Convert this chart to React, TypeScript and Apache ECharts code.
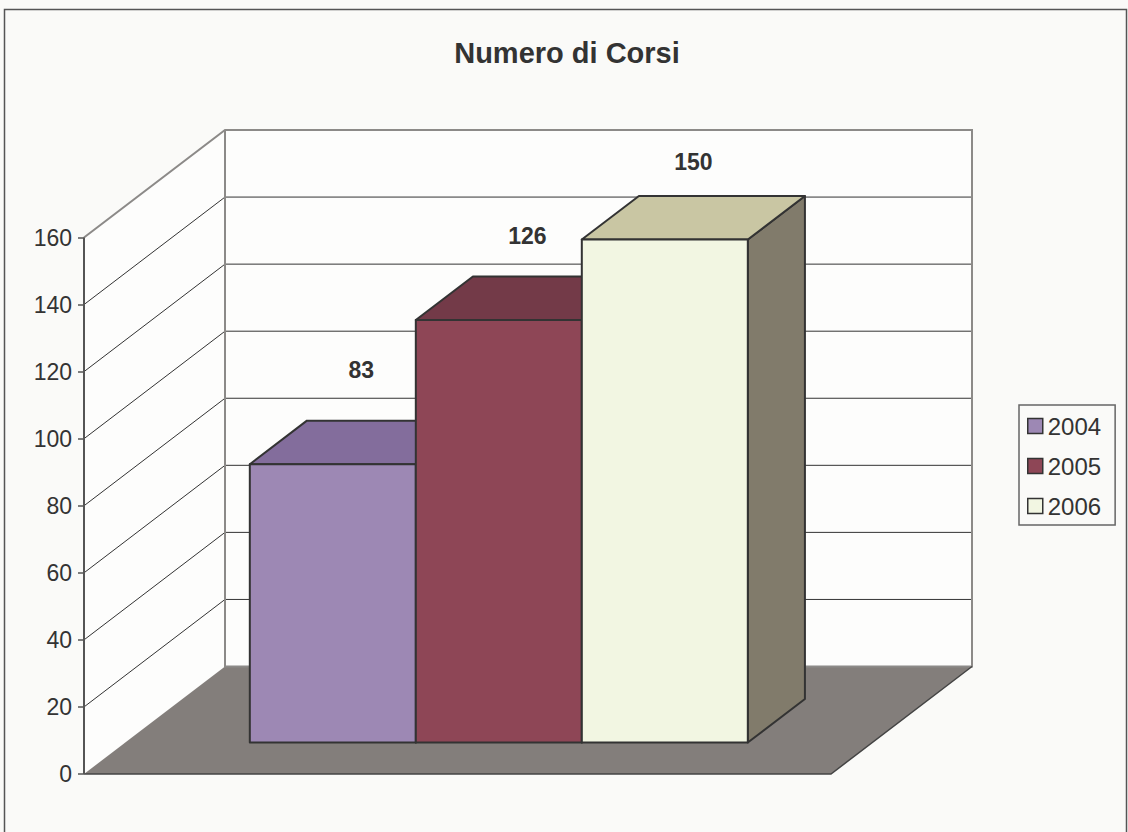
import React, { useEffect, useRef } from "react";
import * as echarts from "echarts";

const TITLE = "Numero di Corsi";
const SERIES_NAMES = ["2004", "2005", "2006"];
const SERIES_VALUES = [83, 126, 150];
const Y_TICKS = [0, 20, 40, 60, 80, 100, 120, 140, 160];
const Y_MIN = 0;
const Y_MAX = 160;
const Y_STEP = 20;

const FRONT_COLORS = ["#9d88b4", "#8e4656", "#f2f6e2"];
const TOP_COLORS = ["#836d9c", "#733a48", "#c9c6a3"];
const SIDE_COLORS = ["#6e5a85", "#5e2f3b", "#817b6b"];

const FONT = "'Liberation Sans', Arial, sans-serif";
const BG = "#fafaf8";
const TEXT = "#333333";

// oblique projection of the 3D box
const DEPTH_DX = 141;
const DEPTH_DY = -107.5;
const BAR_DEPTH_FRONT = 0.293;
const BAR_DEPTH_BACK = 0.698;
const GAP_RATIO = 1.5;
const LABEL_K = 0.926;
const LABEL_DY = -146.6;

export default function App() {
  const ref = useRef<HTMLDivElement>(null);

  useEffect(() => {
    document.body.style.margin = "0";
    if (!ref.current) return;
    const chart = echarts.init(ref.current, null, { renderer: "svg" });

    const project = (api: any, x: number, y: number, d: number) => {
      const c = api.coord([x, y]);
      return [c[0] + d * DEPTH_DX, c[1] + d * DEPTH_DY];
    };

    const frameSeries: any = {
      type: "custom",
      name: "frame",
      clip: false,
      silent: true,
      data: [[0, 0]],
      renderItem: (_params: any, api: any) => {
        const children: any[] = [];
        const f00 = project(api, 0, Y_MIN, 0);
        const f10 = project(api, 1, Y_MIN, 0);
        const f01 = project(api, 0, Y_MAX, 0);
        const b00 = project(api, 0, Y_MIN, 1);
        const b10 = project(api, 1, Y_MIN, 1);
        const b01 = project(api, 0, Y_MAX, 1);
        const b11 = project(api, 1, Y_MAX, 1);
        children.push({
          type: "polygon",
          shape: { points: [b00, b10, b11, b01] },
          style: { fill: "#fdfdfc", stroke: null },
        });
        children.push({
          type: "polygon",
          shape: { points: [f00, b00, b01, f01] },
          style: { fill: "#fdfdfc", stroke: null },
        });
        children.push({
          type: "polygon",
          shape: { points: [f00, f10, b10, b00] },
          style: { fill: "#837e7b", stroke: null },
        });
        Y_TICKS.forEach((t) => {
          if (t === Y_MIN || t === Y_MAX) return;
          const a = project(api, 0, t, 0);
          const b = project(api, 0, t, 1);
          const c = project(api, 1, t, 1);
          children.push({
            type: "polyline",
            shape: { points: [a, b, c] },
            style: { stroke: "#333333", lineWidth: 1, fill: null },
          });
        });
        // back wall + left wall top edges
        children.push({
          type: "polyline",
          shape: { points: [f01, b01, b11, b10, b00, b01] },
          style: { stroke: "#8c8a88", lineWidth: 2, fill: null },
        });
        // floor edges
        children.push({
          type: "polyline",
          shape: { points: [b10, f10, f00] },
          style: { stroke: "#444444", lineWidth: 1.5, fill: null },
        });
        // front vertical axis line
        children.push({
          type: "line",
          shape: { x1: f00[0], y1: f00[1], x2: f01[0], y2: f01[1] },
          style: { stroke: "#555555", lineWidth: 2 },
        });
        return { type: "group", children };
      },
    };

    const n = SERIES_VALUES.length;
    const unit = 1 / (n + GAP_RATIO);

    const barSeries: any[] = SERIES_NAMES.map((name, i) => ({
      type: "custom",
      name,
      clip: false,
      itemStyle: { color: FRONT_COLORS[i] },
      data: [[i, SERIES_VALUES[i]]],
      renderItem: (_params: any, api: any) => {
        const v = api.value(1);
        const x0 = (GAP_RATIO / 2 + i) * unit;
        const x1 = x0 + unit;
        const fl = project(api, x0, 0, BAR_DEPTH_FRONT);
        const fr = project(api, x1, 0, BAR_DEPTH_FRONT);
        const tl = project(api, x0, v, BAR_DEPTH_FRONT);
        const tr = project(api, x1, v, BAR_DEPTH_FRONT);
        const btl = project(api, x0, v, BAR_DEPTH_BACK);
        const btr = project(api, x1, v, BAR_DEPTH_BACK);
        const bbr = project(api, x1, 0, BAR_DEPTH_BACK);
        const edge = { stroke: "#333333", lineWidth: 2, lineJoin: "round" };
        const labelY = api.coord([0, v * LABEL_K])[1] + LABEL_DY;
        const labelX = (tl[0] + btr[0]) / 2;
        return {
          type: "group",
          children: [
            {
              type: "polygon",
              shape: { points: [fr, bbr, btr, tr] },
              style: { fill: SIDE_COLORS[i], ...edge },
            },
            {
              type: "polygon",
              shape: { points: [tl, tr, btr, btl] },
              style: { fill: TOP_COLORS[i], ...edge },
            },
            {
              type: "polygon",
              shape: { points: [fl, fr, tr, tl] },
              style: { fill: FRONT_COLORS[i], ...edge },
            },
            {
              type: "text",
              x: labelX,
              y: labelY,
              style: {
                text: String(v),
                fill: TEXT,
                font: `bold 23px ${FONT}`,
                align: "center",
                verticalAlign: "middle",
              },
            },
          ],
        };
      },
    }));

    chart.setOption({
      animation: false,
      backgroundColor: BG,
      grid: { left: 84, right: 297, top: 237.5, bottom: 58, containLabel: false },
      xAxis: { type: "value", min: 0, max: 1, show: false },
      yAxis: {
        type: "value",
        min: Y_MIN,
        max: Y_MAX,
        interval: Y_STEP,
        axisLine: { show: false },
        axisTick: { show: true, length: 6, lineStyle: { color: "#555555", width: 1.5 } },
        splitLine: { show: false },
        axisLabel: { margin: 12, color: TEXT, fontSize: 23, fontFamily: FONT },
      },
      legend: {
        show: true,
        orient: "vertical",
        left: 1019,
        top: 405,
        padding: [9, 14, 7, 8],
        itemWidth: 15,
        itemHeight: 15,
        itemGap: 16,
        icon: "rect",
        borderColor: "#666666",
        borderWidth: 1.5,
        backgroundColor: BG,
        textStyle: { fontSize: 24, color: TEXT, fontFamily: FONT },
        itemStyle: { borderColor: "#333333", borderWidth: 1.5 },
        data: SERIES_NAMES,
      },
      graphic: [
        {
          type: "rect",
          shape: { x: 4.5, y: 9.5, width: 1122, height: 840 },
          style: { fill: null, stroke: "#555555", lineWidth: 1.5 },
          silent: true,
        },
        {
          type: "text",
          x: 567,
          y: 52.5,
          style: {
            text: TITLE,
            fill: TEXT,
            font: `bold 29px ${FONT}`,
            align: "center",
            verticalAlign: "middle",
          },
        },
      ],
      series: [frameSeries, ...barSeries],
    });

    return () => chart.dispose();
  }, []);

  return <div ref={ref} style={{ width: 1128, height: 832 }} />;
}
